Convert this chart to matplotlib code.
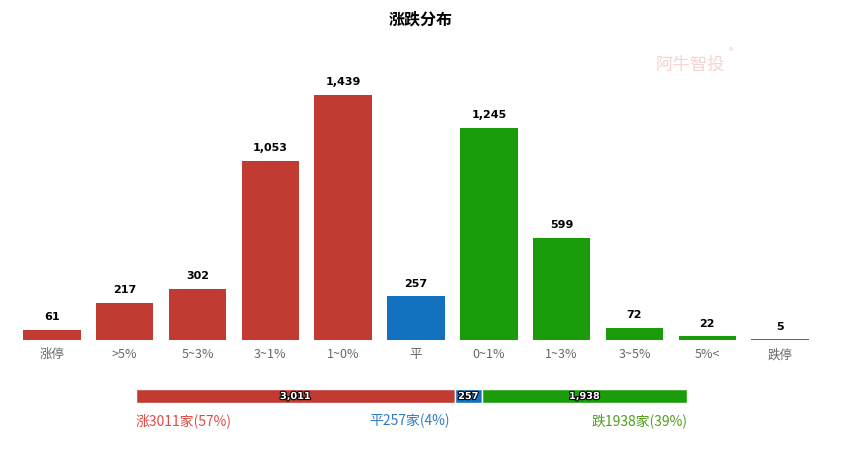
import matplotlib.pyplot as plt
import matplotlib.patheffects as pe

plt.rcParams['font.family'] = ['Noto Sans CJK SC', 'DejaVu Sans']

# bar chart data
categories = ['涨停', '>5%', '5~3%', '3~1%', '1~0%', '平', '0~1%', '1~3%', '3~5%', '5%<', '跌停']
counts = [61, 217, 302, 1053, 1439, 257, 1245, 599, 72, 22, 5]
groups = ['up'] * 5 + ['flat'] + ['down'] * 5

# summary bar data
summary_names = ['涨', '平', '跌']
summary_counts = [3011, 257, 1938]
summary_pct = [57, 4, 39]

RED = '#c23b33'
BLUE = '#1372c0'
GREEN = '#1b9c0b'
colors = {'up': RED, 'flat': BLUE, 'down': GREEN}
text_colors = ['#e04a45', '#2f7bc6', '#4f9e1a']

W, H = 843, 449
fig = plt.figure(figsize=(W / 100, H / 100), dpi=100)

# main bar chart, placed in pixel terms
ax = fig.add_axes([15.5 / W, (H - 340) / H, 801 / W, 280 / H])
x = range(len(categories))
bars = ax.bar(x, counts, width=0.79, color=[colors[g] for g in groups])
ax.set_xlim(-0.5, len(categories) - 0.5)
ax.set_ylim(0, 1644)
for b, v in zip(bars, counts):
    ax.annotate(f'{v:,}', (b.get_x() + b.get_width() / 2, v), xytext=(0, 5.5),
                textcoords='offset points', ha='center', va='bottom',
                fontsize=8, fontweight='bold', color='black', family='DejaVu Sans')
ax.set_xticks(list(x))
ax.set_xticklabels(categories, fontsize=9, color='#666666')
ax.tick_params(axis='x', length=0, pad=6)
ax.set_yticks([])
for s in ax.spines.values():
    s.set_visible(False)

fig.text(421 / W, 1 - 20 / H, '涨跌分布', ha='center', va='center',
         fontsize=11.5, fontweight='bold')

# watermark
fig.text(690 / W, 1 - 65 / H, '阿牛智投', ha='center', va='center',
         fontsize=12.5, color='#f7d3d3')
fig.text(731 / W, 1 - 52 / H, '®', ha='center', va='center',
         fontsize=6, color='#f7d3d3')

# summary stacked bar
ax2 = fig.add_axes([136 / W, (H - 403) / H, 551 / W, 14 / H])
total = sum(summary_counts)
left = 0
for n, c, col in zip(summary_names, summary_counts, [RED, BLUE, GREEN]):
    ax2.barh(0, c, left=left, height=1, color=col, edgecolor='white', linewidth=1)
    ax2.text(left + c / 2, 0, f'{c:,}', ha='center', va='center', fontsize=7,
             fontweight='bold', color='white', family='DejaVu Sans',
             path_effects=[pe.withStroke(linewidth=1.6, foreground='black')])
    left += c
ax2.set_xlim(0, total)
ax2.set_ylim(-0.5, 0.5)
ax2.axis('off')

ypos = 1 - 421 / H
fig.text(136 / W, ypos, f'{summary_names[0]}{summary_counts[0]}家({summary_pct[0]}%)',
         ha='left', va='center', fontsize=10, color=text_colors[0])
fig.text(409 / W, ypos, f'{summary_names[1]}{summary_counts[1]}家({summary_pct[1]}%)',
         ha='center', va='center', fontsize=10, color=text_colors[1])
fig.text(687 / W, ypos, f'{summary_names[2]}{summary_counts[2]}家({summary_pct[2]}%)',
         ha='right', va='center', fontsize=10, color=text_colors[2])

fig.savefig('out.png', dpi=100)
